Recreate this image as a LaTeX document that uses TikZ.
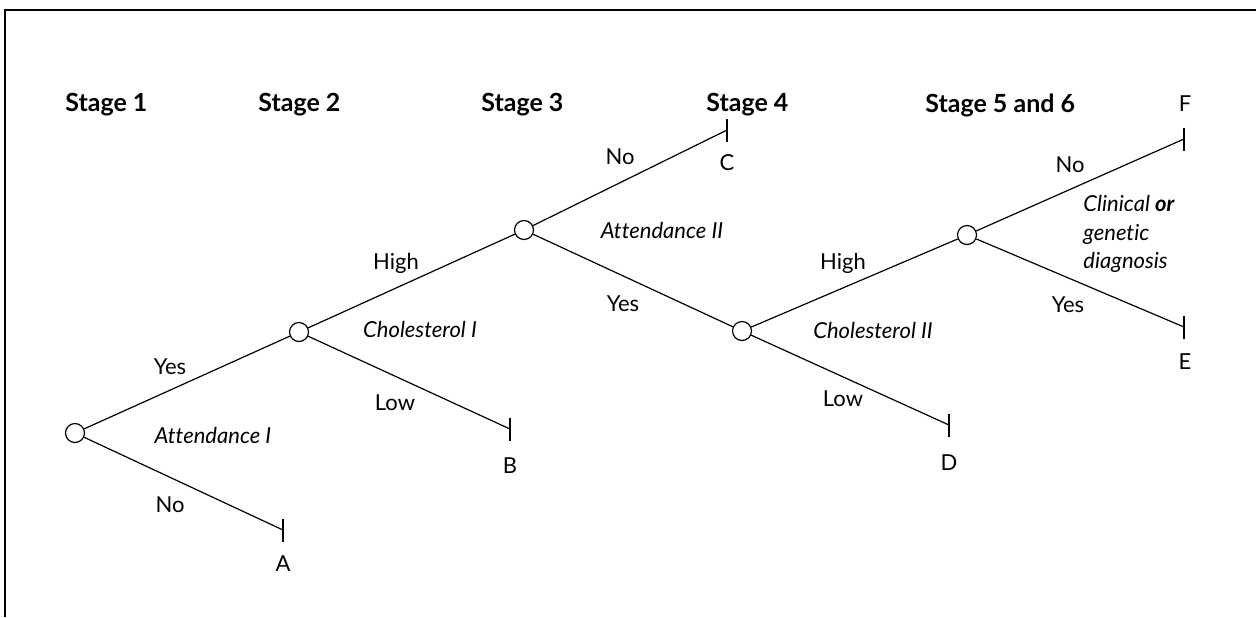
\documentclass[tikz,border=0pt]{standalone}
\usepackage{fontspec}
\setmainfont[Ligatures=NoCommon]{Lato}
\begin{document}
\begin{tikzpicture}[x=0.5pt,y=-0.5pt,
  chance/.style={circle,draw,line width=0.6pt,minimum size=9.5pt,inner sep=0pt,fill=white},
  branch/.style={line width=0.6pt},
  tick/.style={line width=0.6pt},
  lbl/.style={font=\fontsize{11}{13}\selectfont,inner sep=0pt},
  ilbl/.style={font=\fontsize{11}{13}\selectfont\itshape,inner sep=0pt},
  stagelbl/.style={font=\fontsize{12.5}{14}\selectfont\bfseries,inner sep=0pt,anchor=west}]
\useasboundingbox (0,0) rectangle (1256,617);
\draw[line width=1pt] (5,617) -- (5,10) -- (1256,10);
% stage headings
\node[stagelbl] (s1) at (65,105) {Stage 1};
\node[stagelbl] (s2) at (258,105) {Stage 2};
\node[stagelbl] (s3) at (481,105) {Stage 3};
\node[stagelbl] (s4) at (706,105) {Stage 4};
\node[stagelbl] (s5) at (925,105) {Stage 5 and 6};
% decision nodes
\node[chance] (n1) at (75,433) {};
\node[chance] (n2) at (299,332) {};
\node[chance] (n3) at (524,230) {};
\node[chance] (n4) at (742,331) {};
\node[chance] (n5) at (967,235) {};
% terminal points
\coordinate (eA) at (283,530);
\coordinate (eB) at (510,429);
\coordinate (eC) at (727,130);
\coordinate (eD) at (949,425);
\coordinate (eF) at (1184,139);
\coordinate (eE) at (1184,327);
% branches
\draw[branch] (n1) -- (n2);
\draw[branch] (n1) -- (eA);
\draw[branch] (n2) -- (n3);
\draw[branch] (n2) -- (eB);
\draw[branch] (n3) -- (eC);
\draw[branch] (n3) -- (n4);
\draw[branch] (n4) -- (n5);
\draw[branch] (n4) -- (eD);
\draw[branch] (n5) -- (eF);
\draw[branch] (n5) -- (eE);
% ticks
\foreach \e in {eA,eB,eC,eD,eF,eE}{
  \draw[tick] ([yshift=5.75pt]\e) -- ([yshift=-5.75pt]\e);
}
% end labels
\node[lbl] (lA) at (283,564) {A};
\node[lbl] (lB) at (510,466) {B};
\node[lbl] (lC) at (727,163) {C};
\node[lbl] (lD) at (949,463) {D};
\node[lbl] (lF) at (1185,104) {F};
\node[lbl] (lE) at (1185,362) {E};
% branch labels
\node[lbl] (y1) at (170,367) {Yes};
\node[ilbl] (q1) at (213,435) {Attendance I};
\node[lbl] (no1) at (170,505) {No};
\node[lbl] (h1) at (396,263) {High};
\node[ilbl] (q2) at (420,329) {Cholesterol I};
\node[lbl] (lo1) at (395,403) {Low};
\node[lbl] (no2) at (620,157) {No};
\node[ilbl] (q3) at (662,230) {Attendance II};
\node[lbl] (y2) at (623,304) {Yes};
\node[lbl] (h2) at (843,263) {High};
\node[ilbl] (q4) at (873,330) {Cholesterol II};
\node[lbl] (lo2) at (843,399) {Low};
\node[lbl] (no3) at (1070,165) {No};
\node[ilbl,anchor=west] (q5a) at (1083,203) {Clinical \textbf{or}};
\node[ilbl,anchor=west] (q5b) at (1083,234) {genetic};
\node[ilbl,anchor=west] (q5c) at (1083,262) {diagnosis};
\node[lbl] (y3) at (1068,305) {Yes};
\end{tikzpicture}
\end{document}
